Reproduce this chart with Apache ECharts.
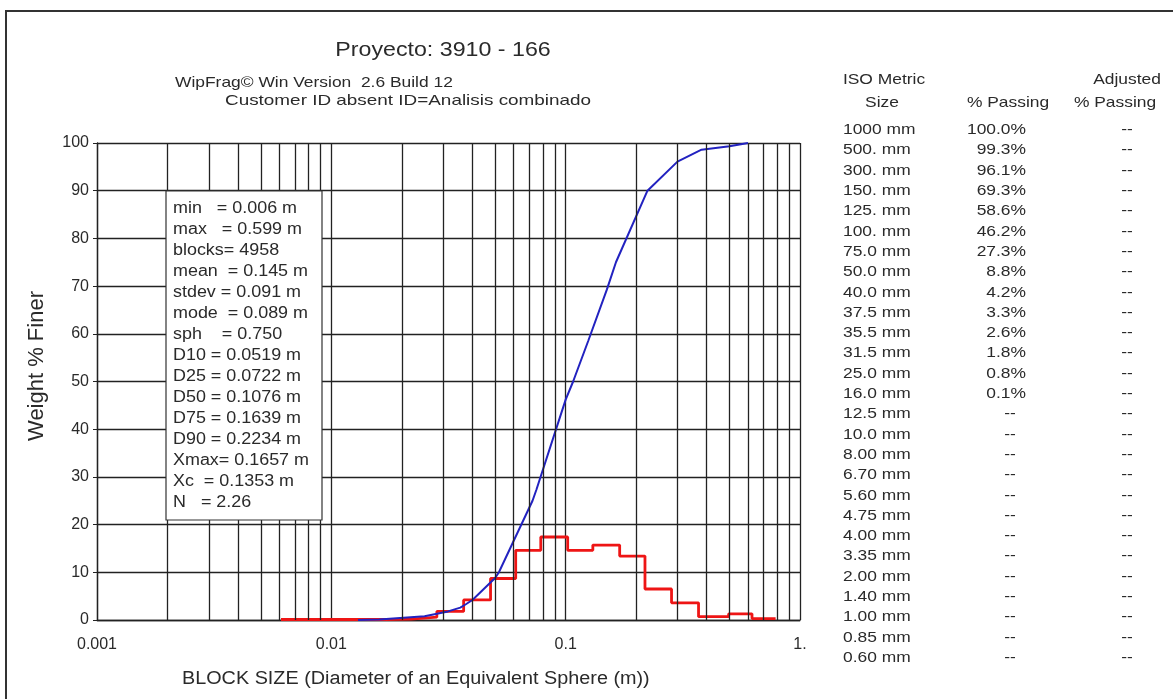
<!DOCTYPE html>
<html><head><meta charset="utf-8">
<script src="https://cdn.jsdelivr.net/npm/echarts@6/dist/echarts.min.js"></script>
<style>html,body{margin:0;padding:0;background:#fff}#c{width:1173px;height:699px}</style>
</head><body><div id="c"></div>
<script>
// ---------- data ----------
const titleText = 'Proyecto: 3910 - 166';
const subtitle1 = 'WipFrag\u00A9 Win Version  2.6 Build 12';
const subtitle2 = 'Customer ID absent ID=Analisis combinado';
const xAxisTitle = 'BLOCK SIZE (Diameter of an Equivalent Sphere (m))';
const yAxisTitle = 'Weight % Finer';

const xTickValues = [0.001, 0.01, 0.1, 1];
const xTickLabels = ['0.001', '0.01', '0.1', '1.'];
const xMinorGrid = [0.002,0.003,0.004,0.005,0.006,0.007,0.008,0.009,
                    0.02,0.03,0.04,0.05,0.06,0.07,0.08,0.09,
                    0.2,0.3,0.4,0.5,0.6,0.7,0.8,0.9];

// cumulative passing curve (size in m, % finer)
const cumSize    = [0.013, 0.016, 0.025, 0.0315, 0.0355, 0.0375, 0.040, 0.050, 0.0519, 0.0722, 0.075, 0.100, 0.1076, 0.125, 0.150, 0.1639, 0.2234, 0.300, 0.380, 0.500, 0.600];
const cumPassing = [0.0,   0.1,   0.8,   1.8,    2.6,    3.3,    4.2,   8.8,   10.0,   25.0,   27.3,  46.2,  50.0,   58.6,  69.3,  75.0,   90.0,   96.1,  98.6,  99.3,  100.0];

// histogram (bin edges in m, % per bin)
const binEdges   = [0.0061, 0.0079, 0.0102, 0.0132, 0.0170, 0.0219, 0.0282, 0.0367, 0.0478, 0.0612, 0.0783, 0.102, 0.1306, 0.170, 0.218, 0.283, 0.369, 0.496, 0.624, 0.787];
const binPercent = [0.1,    0.1,    0.1,    0.1,    0.2,    0.6,    1.8,    4.2,    8.7,    14.6,   17.4,   14.6,  15.7,   13.4,  6.5,   3.6,   0.7,   1.3,   0.3];

const statsLines = [
  'min   = 0.006 m', 'max   = 0.599 m', 'blocks= 4958', 'mean  = 0.145 m',
  'stdev = 0.091 m', 'mode  = 0.089 m', 'sph    = 0.750', 'D10 = 0.0519 m',
  'D25 = 0.0722 m', 'D50 = 0.1076 m', 'D75 = 0.1639 m', 'D90 = 0.2234 m',
  'Xmax= 0.1657 m', 'Xc  = 0.1353 m', 'N   = 2.26'
];

const isoSizes    = ['1000 mm','500. mm','300. mm','150. mm','125. mm','100. mm','75.0 mm','50.0 mm','40.0 mm','37.5 mm','35.5 mm','31.5 mm','25.0 mm','16.0 mm','12.5 mm','10.0 mm','8.00 mm','6.70 mm','5.60 mm','4.75 mm','4.00 mm','3.35 mm','2.00 mm','1.40 mm','1.00 mm','0.85 mm','0.60 mm'];
const isoPassing  = ['100.0%','99.3%','96.1%','69.3%','58.6%','46.2%','27.3%','8.8%','4.2%','3.3%','2.6%','1.8%','0.8%','0.1%','--','--','--','--','--','--','--','--','--','--','--','--','--'];
const isoAdjusted = ['--','--','--','--','--','--','--','--','--','--','--','--','--','--','--','--','--','--','--','--','--','--','--','--','--','--','--'];

// ---------- layout ----------
const FONT = '"Liberation Sans", Arial, sans-serif';
const TXT = '#2a2a2a';
const SX = 1.16;
const GRID = {left: 97, top: 143, width: 703, height: 477};

function txt(x, y, text, size, align, extra) {
  return Object.assign({
    type: 'text', x: x, y: y, scaleX: SX, z: 110, silent: true,
    style: {text: text, fill: TXT, font: size + 'px ' + FONT,
            textAlign: align, align: align, textVerticalAlign: 'middle', verticalAlign: 'middle'}
  }, extra || {});
}

const g = [];
// frame
g.push({type: 'rect', z: 1, silent: true, shape: {x: 6, y: 11, width: 1220, height: 760},
        style: {fill: 'none', stroke: '#333', lineWidth: 2}});
// titles
g.push(txt(443, 50, titleText, 20, 'center'));
g.push(txt(175, 83, subtitle1, 15, 'left'));
g.push(txt(225, 101, subtitle2, 15, 'left', {scaleX: 1.26}));
// axis titles
g.push(txt(182, 679, xAxisTitle, 18, 'left', {scaleX: 1.1}));
g.push({type: 'text', x: 37, y: 366, rotation: Math.PI / 2, z: 110, silent: true,
        style: {text: yAxisTitle, fill: TXT, font: '22px ' + FONT,
                textAlign: 'center', align: 'center', textVerticalAlign: 'middle', verticalAlign: 'middle'}});
// stats box
g.push({type: 'rect', z: 105, silent: true, shape: {x: 166, y: 191, width: 156, height: 329},
        style: {fill: '#fff', stroke: '#333', lineWidth: 1.2}});
statsLines.forEach(function (s, i) { g.push(txt(173, 209 + i * 21, s, 16, 'left', {scaleX: 1.12})); });
// table
g.push(txt(884, 80, 'ISO Metric', 15, 'center'));
g.push(txt(882, 103, 'Size', 15, 'center'));
g.push(txt(1008, 103, '% Passing', 15, 'center'));
g.push(txt(1127, 80, 'Adjusted', 15, 'center'));
g.push(txt(1115, 103, '% Passing', 15, 'center'));
isoSizes.forEach(function (s, i) {
  const y = 130 + i * 20.3;
  g.push(txt(843, y, s, 15, 'left'));
  if (isoPassing[i] === '--') g.push(txt(1010, y, isoPassing[i], 15, 'center'));
  else g.push(txt(1026, y, isoPassing[i], 15, 'right'));
  g.push(txt(1127, y, isoAdjusted[i], 15, 'center'));
});

const chart = echarts.init(document.getElementById('c'), null, {renderer: 'canvas'});
chart.setOption({
  backgroundColor: '#fff',
  animation: false,
  grid: GRID,
  xAxis: {
    type: 'log', logBase: 10, min: 0.001, max: 1, splitNumber: 3,
    axisLine: {show: true, lineStyle: {color: '#222', width: 1.3}},
    axisTick: {show: false},
    axisLabel: {
      color: TXT, fontSize: 16, fontFamily: FONT, margin: 17,
      formatter: function (v) {
        let best = 0;
        xTickValues.forEach(function (t, i) {
          if (Math.abs(Math.log10(t) - Math.log10(v)) < Math.abs(Math.log10(xTickValues[best]) - Math.log10(v))) best = i;
        });
        return xTickLabels[best];
      }
    },
    splitLine: {show: true, lineStyle: {color: '#222', width: 1.3}}
  },
  yAxis: {
    type: 'value', min: 0, max: 100, interval: 10,
    axisLine: {show: true, lineStyle: {color: '#222', width: 1.3}},
    axisTick: {show: true, inside: false, length: 4, lineStyle: {color: '#222'}},
    axisLabel: {color: TXT, fontSize: 16, fontFamily: FONT, margin: 8},
    splitLine: {show: true, lineStyle: {color: '#222', width: 1.3}}
  },
  graphic: {elements: g},
  series: [
    {
      type: 'line', name: 'grid', z: 1, silent: true, symbol: 'none',
      data: [[0.001, 0]], lineStyle: {opacity: 0},
      markLine: {
        silent: true, symbol: ['none', 'none'], label: {show: false}, precision: 8,
        lineStyle: {color: '#222', width: 1.3, type: 'solid'},
        emphasis: {disabled: true},
        data: xMinorGrid.map(function (v) { return {xAxis: v}; })
      }
    },
    {
      type: 'line', name: 'histogram', z: 3, step: 'end', symbol: 'none', silent: true,
      data: binEdges.map(function (e, i) { return [e, binPercent[Math.min(i, binPercent.length - 1)]]; }),
      lineStyle: {color: '#ee1515', width: 2.8}
    },
    {
      type: 'line', name: 'cumulative', z: 4, symbol: 'none', silent: true, smooth: false,
      data: cumSize.map(function (s, i) { return [s, cumPassing[i]]; }),
      lineStyle: {color: '#2222c0', width: 2}
    }
  ]
});
</script></body></html>
